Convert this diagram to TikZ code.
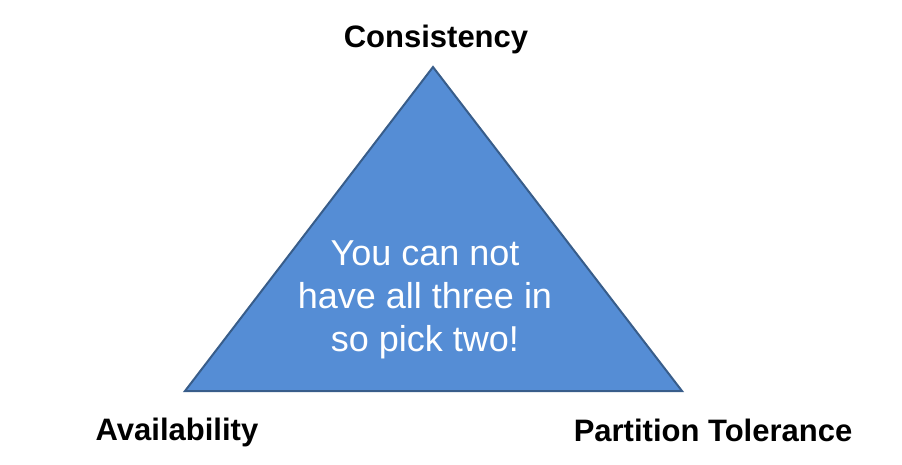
\documentclass[tikz,border=0pt]{standalone}
\usepackage{fontspec}
\setmainfont{Liberation Sans}
\definecolor{trifill}{RGB}{85,141,213}
\definecolor{triedge}{RGB}{56,93,138}
\begin{document}
\begin{tikzpicture}[x=1pt,y=-1pt,
  lbl/.style={font=\fontsize{31}{36}\selectfont\bfseries, text=black, inner sep=0pt, anchor=base},
  inner/.style={font=\fontsize{36}{43}\selectfont, text=white, inner sep=0pt, anchor=base, align=center}]
\useasboundingbox (0,0) rectangle (902,464);
\coordinate (top) at (433,67);
\coordinate (bl) at (185,391);
\coordinate (br) at (682,391);
\draw[fill=trifill, draw=triedge, line width=2pt, line join=miter] (top) -- (bl) -- (br) -- cycle;
\node[lbl] (c) at (436,47) {Consistency};
\node[lbl] (a) at (177,440) {Availability};
\node[lbl] (p) at (713,441) {Partition Tolerance};
\node[inner] (t1) at (425,265) {You can not};
\node[inner] (t2) at (425,308) {have all three in};
\node[inner] (t3) at (425,351) {so pick two!};
\end{tikzpicture}
\end{document}
